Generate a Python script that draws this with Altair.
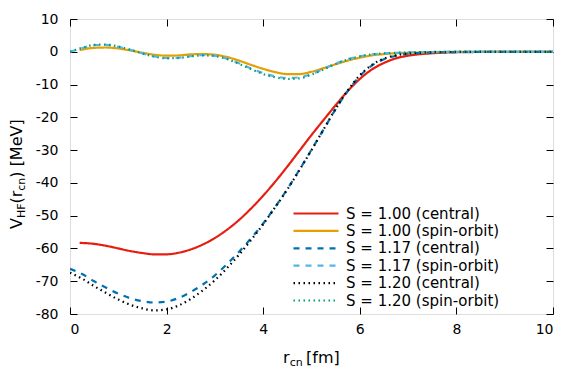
import altair as alt
import pandas as pd

labels = ["S = 1.00 (central)", "S = 1.00 (spin-orbit)", "S = 1.17 (central)",
          "S = 1.17 (spin-orbit)", "S = 1.20 (central)", "S = 1.20 (spin-orbit)"]
colors = ["#e51e10", "#e69f00", "#0072b2", "#56b4e9", "#000000", "#009e73"]
dashes = [[1, 0], [1, 0], [6, 6], [6, 6], [1.5, 3.5], [1.5, 3.5]]
widths = [2.2, 2.2, 3, 2.6, 2, 2]

x_a = [0.2, 0.5, 0.75, 1.0, 1.25, 1.5, 1.75, 2.0, 2.25, 2.5, 2.75, 3.0, 3.25, 3.5,
       3.75, 4.0, 4.25, 4.5, 4.75, 5.0, 5.25, 5.5, 5.75, 6.0, 6.25, 6.5, 6.75, 7.0,
       7.5, 8.0, 9.0, 10.0]
x_b = [0.0, 0.25, 0.5, 0.75, 1.0, 1.25, 1.5, 1.75, 2.0, 2.25, 2.5, 2.75, 3.0, 3.25,
       3.5, 3.75, 4.0, 4.25, 4.5, 4.75, 5.0, 5.25, 5.5, 5.75, 6.0, 6.25, 6.5, 6.75,
       7.0, 7.5, 8.0, 9.0, 10.0]

v100_central = [-58.3, -58.6, -59.2, -60.0, -60.8, -61.4, -61.8, -61.8, -61.3, -60.3,
                -58.8, -56.8, -54.3, -51.3, -47.8, -43.9, -39.6, -35.0, -30.2, -25.4,
                -20.8, -16.3, -12.0, -8.3, -5.4, -3.4, -2.0, -1.2, -0.45, -0.15, -0.02, 0.0]
v100_so = [0.5, 1.2, 1.3, 1.0, 0.4, -0.3, -0.9, -1.2, -1.1, -0.8, -0.7, -0.9, -1.6,
           -2.7, -4.0, -5.2, -6.2, -6.8, -6.8, -6.1, -5.0, -3.8, -2.7, -1.8, -1.1,
           -0.7, -0.45, -0.3, -0.12, -0.04, 0.0, 0.0]
v117_central = [-66.2, -67.8, -70.0, -72.0, -73.8, -75.2, -76.1, -76.5, -76.2, -75.1,
                -73.3, -71.0, -68.2, -64.8, -61.0, -56.9, -52.4, -47.3, -41.9, -36.0,
                -29.9, -23.7, -17.5, -12.0, -7.4, -4.2, -2.3, -1.2, -0.6, -0.2, -0.08,
                0.0, 0.0]
v117_so = [0.0, 1.1, 2.0, 2.1, 1.5, 0.6, -0.5, -1.4, -1.9, -1.8, -1.3, -1.0, -1.2,
           -2.1, -3.5, -5.1, -6.5, -7.5, -8.0, -7.8, -6.8, -5.2, -3.6, -2.3, -1.4,
           -0.8, -0.5, -0.3, -0.2, -0.07, -0.02, 0.0, 0.0]
v120_central = [-67.4, -69.2, -71.5, -73.6, -75.6, -77.2, -78.3, -78.9, -78.6, -77.4,
                -75.4, -72.8, -69.7, -66.0, -61.9, -57.4, -52.6, -47.4, -42.0, -36.1,
                -30.0, -23.7, -17.4, -11.8, -7.2, -4.0, -2.1, -1.1, -0.5, -0.15, -0.05,
                0.0, 0.0]
v120_so = [0.0, 1.2, 2.1, 2.2, 1.6, 0.6, -0.5, -1.5, -2.0, -1.9, -1.4, -1.1, -1.3,
           -2.2, -3.7, -5.3, -6.8, -7.8, -8.3, -8.1, -7.0, -5.4, -3.7, -2.4, -1.4,
           -0.8, -0.5, -0.3, -0.2, -0.06, -0.02, 0.0, 0.0]

x_ticks = [0, 2, 4, 6, 8, 10]
y_ticks = [-80, -70, -60, -50, -40, -30, -20, -10, 0, 10]

series = [(labels[0], x_a, v100_central), (labels[1], x_a, v100_so),
          (labels[2], x_b, v117_central), (labels[3], x_b, v117_so),
          (labels[4], x_b, v120_central), (labels[5], x_b, v120_so)]
rows = []
for name, xs_, vs in series:
    for i, (xv, yv) in enumerate(zip(xs_, vs)):
        rows.append({"series": name, "r": xv, "v": yv, "i": i})
df = pd.DataFrame(rows)

FONT = "DejaVu Sans"
xs = alt.Scale(domain=[0, 10], nice=False, zero=False)
ys = alt.Scale(domain=[-80, 10], nice=False, zero=False)

leg = alt.Legend(title=None, orient="none", legendX=237, legendY=185.5,
                 symbolType="M-3,0H3", symbolSize=225, labelFontSize=15,
                 labelOffset=21, padding=0, rowPadding=0.4, labelColor="black",
                 labelFont=FONT, labelLimit=400)

lines = alt.Chart(df).mark_line(interpolate="monotone", clip=True).encode(
    x=alt.X("r:Q", scale=xs, axis=alt.Axis(
        orient="bottom", values=x_ticks, labelExpr="datum.value + ''", offset=-7,
        tickSize=7, domain=False, grid=False, title=None, labelFontSize=14,
        labelPadding=8, labelColor="black", tickColor="black", labelFont=FONT)),
    y=alt.Y("v:Q", scale=ys, axis=alt.Axis(
        orient="left", values=y_ticks, labelExpr="datum.value + ''", offset=-7,
        tickSize=7, domain=False, grid=False, title=None, labelFontSize=14,
        labelPadding=12, labelColor="black", tickColor="black", labelFont=FONT)),
    color=alt.Color("series:N", scale=alt.Scale(domain=labels, range=colors), legend=leg),
    strokeDash=alt.StrokeDash("series:N", scale=alt.Scale(domain=labels, range=dashes), legend=leg),
    strokeWidth=alt.StrokeWidth("series:N", scale=alt.Scale(domain=labels, range=widths), legend=leg),
    order="i:Q",
)

mirror = alt.Chart(df).mark_line(opacity=0).encode(
    x=alt.X("r:Q", scale=xs, axis=alt.Axis(
        orient="top", values=x_ticks, offset=-7, tickSize=7, labels=False,
        domain=False, grid=False, title=None, tickColor="black")),
    y=alt.Y("v:Q", scale=ys, axis=alt.Axis(
        orient="right", values=y_ticks, offset=-7, tickSize=7, labels=False,
        domain=False, grid=False, title=None, tickColor="black")),
)


def txt(s, x, y, size, angle=0):
    return alt.Chart(pd.DataFrame({"t": [s]})).mark_text(
        font=FONT, fontSize=size, align="left", baseline="alphabetic",
        angle=angle, color="black").encode(
        text="t:N", x=alt.value(x), y=alt.value(y))


title_parts = [
    txt("r", 213, 344, 16), txt("cn", 219.8, 347, 11), txt("[fm]", 236, 344, 16),
    txt("V", -48, 210, 16, 270), txt("HF", -45, 199.1, 11, 270),
    txt("(r", -48, 184.5, 16, 270), txt("cn", -45, 171.7, 11, 270),
    txt(") [MeV]", -48, 158.7, 16, 270),
]

chart = alt.layer(lines, mirror, *title_parts).resolve_axis(
    x="independent", y="independent"
).properties(
    width=483, height=295,
    autosize=alt.AutoSizeParams(type="none"),
    padding={"left": 62, "top": 11, "right": 20, "bottom": 66},
).configure_view(stroke="black", strokeWidth=1).configure(font=FONT)

chart.save("out.html", embed_options={"renderer": "svg", "actions": False})
